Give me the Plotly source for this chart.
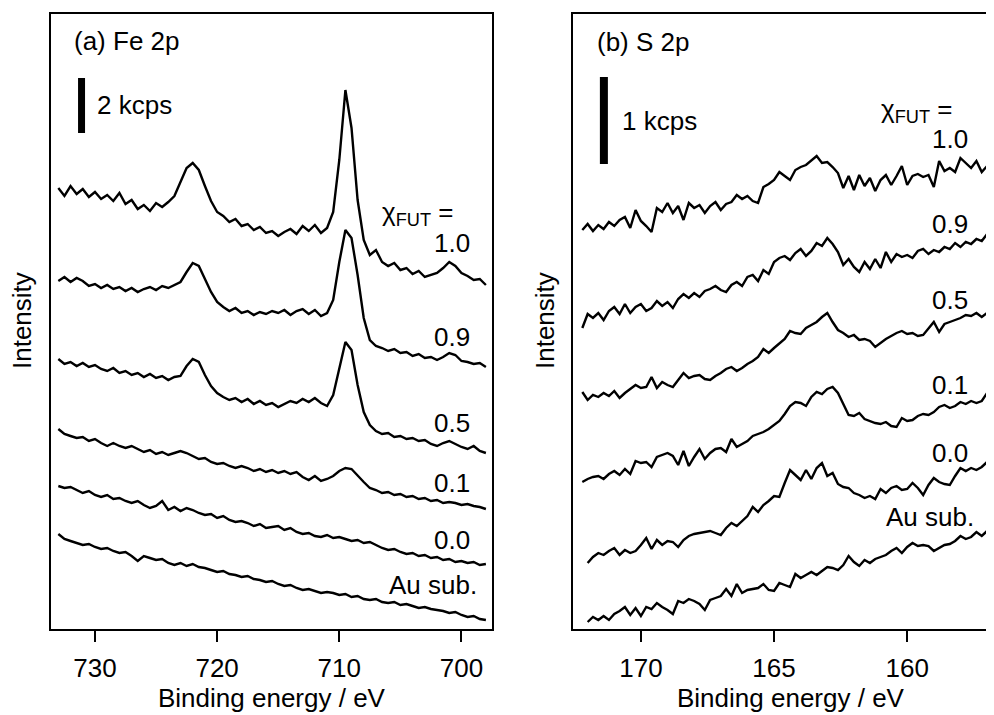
import numpy as np
import plotly.graph_objects as go

# ---------------- data (intensity in arbitrary units, curves already offset) -------------
FE_ENERGY = np.linspace(733.0, 698.0, 71)   # eV, 0.5 eV sampling
S_ENERGY = np.linspace(172.2, 156.8, 78)    # eV, 0.2 eV sampling

FE_10 = [512, 504, 514, 506, 511, 503, 508, 501, 505, 499,
         507, 496, 500, 491, 495, 489, 497, 493, 498, 504,
         518, 532, 537, 530, 514, 499, 488, 484, 478, 481,
         474, 476, 470, 473, 467, 469, 464, 468, 471, 466,
         474, 469, 475, 467, 472, 488, 540, 610, 572, 500,
         460, 445, 450, 438, 434, 437, 430, 432, 426, 429,
         423, 425, 427, 432, 438, 434, 427, 424, 420, 421,
         415]
FE_09 = [419, 423, 418, 422, 419, 414, 416, 412, 415, 411,
         413, 409, 412, 408, 411, 413, 410, 414, 412, 415,
         418, 428, 437, 434, 421, 408, 398, 393, 389, 392,
         387, 389, 385, 388, 386, 389, 387, 390, 385, 389,
         391, 386, 390, 384, 387, 400, 438, 470, 462, 425,
         382, 360, 354, 352, 349, 351, 347, 348, 344, 346,
         342, 343, 340, 343, 347, 345, 339, 338, 336, 337,
         333]
FE_05 = [341, 336, 338, 334, 337, 333, 335, 331, 329, 332,
         327, 329, 325, 327, 323, 326, 322, 324, 320, 323,
         324, 334, 341, 338, 325, 314, 307, 303, 300, 302,
         298, 301, 296, 299, 295, 297, 293, 296, 299, 297,
         301, 298, 302, 297, 294, 305, 332, 358, 350, 315,
         288, 275, 269, 266, 267, 263, 264, 261, 262, 259,
         260, 256, 254, 257, 259, 256, 253, 251, 254, 249,
         247]
FE_01 = [271, 266, 264, 262, 263, 259, 261, 257, 254, 257,
         254, 252, 254, 251, 248, 250, 246, 248, 245, 247,
         249, 247, 244, 241, 242, 238, 236, 237, 234, 232,
         234, 232, 229, 231, 228, 230, 227, 229, 226, 228,
         223, 220, 224, 219, 221, 224, 229, 232, 231, 224,
         218, 212, 210, 207, 208, 205, 206, 203, 204, 201,
         202, 199, 200, 197, 198, 197, 195, 196, 194, 193,
         191]
FE_00 = [214, 212, 213, 210, 207, 209, 205, 203, 205, 201,
         202, 199, 197, 199, 195, 192, 194, 199, 190, 193,
         189, 192, 190, 187, 185, 186, 182, 184, 180, 178,
         179, 177, 174, 176, 172, 173, 174, 170, 172, 168,
         166, 167, 164, 163, 165, 162, 163, 161, 159, 160,
         157, 158, 155, 152, 150, 151, 148, 146, 147, 144,
         145, 142, 143, 140, 141, 138, 139, 137, 138, 135,
         136]
FE_AU = [166, 161, 159, 157, 155, 156, 153, 151, 152, 149,
         147, 148, 144, 139, 144, 142, 140, 141, 137, 135,
         137, 134, 136, 133, 132, 130, 128, 129, 126, 125,
         123, 124, 121, 120, 118, 119, 116, 114, 115, 112,
         110, 111, 109, 107, 108, 107, 105, 106, 103, 104,
         101, 100, 101, 98, 97, 98, 95, 96, 94, 92,
         93, 91, 90, 89, 87, 88, 85, 83, 84, 81,
         80]

S_10 = [470, 476, 469, 475, 471, 478, 474, 480, 483, 472,
        490, 479, 474, 468, 492, 488, 497, 487, 494, 480,
        497, 492, 495, 487, 494, 498, 490, 496, 498, 505,
        501, 504, 499, 497, 513, 516, 520, 528, 524, 520,
        530, 533, 535, 540, 544, 537, 538, 533, 527, 512,
        524, 510, 525, 514, 522, 509, 520, 525, 515, 524,
        534, 515, 524, 526, 523, 525, 513, 539, 529, 532,
        528, 542, 537, 532, 539, 528, 534, 540]
S_09 = [372, 386, 382, 387, 380, 389, 393, 386, 396, 387,
        393, 396, 389, 392, 399, 394, 398, 392, 401, 406,
        402, 407, 403, 409, 411, 414, 410, 408, 415, 418,
        414, 423, 425, 419, 430, 426, 438, 442, 444, 440,
        447, 451, 444, 449, 457, 454, 462, 456, 448, 435,
        441, 433, 428, 438, 431, 441, 432, 448, 438, 446,
        443, 445, 442, 449, 451, 446, 450, 448, 453, 451,
        457, 453, 458, 456, 461, 459, 466, 472]
S_05 = [308, 300, 305, 303, 307, 304, 309, 302, 307, 311,
        315, 312, 313, 323, 312, 318, 315, 313, 320, 327,
        322, 324, 325, 321, 320, 324, 327, 331, 333, 329,
        332, 336, 339, 343, 351, 347, 352, 357, 361, 369,
        367, 366, 372, 375, 378, 383, 387, 378, 370, 367,
        363, 365, 360, 361, 359, 353, 357, 361, 364, 367,
        369, 366, 367, 364, 365, 372, 378, 368, 376, 378,
        380, 382, 385, 384, 387, 383, 387, 389]
S_01 = [218, 221, 223, 224, 221, 226, 229, 225, 231, 226,
        239, 237, 238, 233, 243, 245, 247, 244, 235, 249,
        234, 243, 251, 241, 247, 251, 252, 248, 261, 253,
        256, 259, 264, 266, 268, 271, 275, 279, 286, 294,
        298, 297, 294, 303, 308, 306, 311, 313, 307, 296,
        285, 284, 287, 281, 279, 277, 276, 278, 274, 273,
        282, 279, 280, 284, 286, 285, 288, 293, 295, 292,
        294, 298, 296, 299, 297, 299, 307, 305]
S_00 = [None, 137, 143, 147, 145, 149, 152, 145, 150, 147,
        149, 155, 162, 151, 160, 155, 159, 158, 153, 160,
        164, 166, 167, 168, 169, 167, 165, 172, 177, 174,
        179, 184, 193, 188, 195, 199, 204, 203, 217, 230,
        225, 220, 230, 221, 232, 237, 224, 227, 216, 213,
        212, 207, 205, 202, 204, 201, 211, 207, 212, 214,
        210, 211, 217, 212, 205, 215, 222, 218, 216, 215,
        224, 232, 229, 232, 230, 233, 238, 242]
S_AU = [None, 78, 83, 80, 84, 80, 86, 89, 93, 85,
        92, 84, 93, 91, 97, 93, 90, 86, 99, 97,
        101, 99, 96, 90, 100, 102, 104, 111, 104, 116,
        107, 110, 111, 112, 116, 110, 109, 117, 115, 113,
        126, 122, 125, 128, 125, 129, 133, 132, 130, 135,
        144, 138, 134, 140, 137, 141, 143, 145, 149, 152,
        147, 153, 157, 154, 155, 154, 149, 152, 155, 156,
        159, 164, 161, 163, 168, 164, 169, 170]

SERIES_LABELS = ["1.0", "0.9", "0.5", "0.1", "0.0", "Au sub."]
FE_SERIES = [FE_10, FE_09, FE_05, FE_01, FE_00, FE_AU]
S_SERIES = [S_10, S_09, S_05, S_01, S_00, S_AU]

FE_SCALE_UNITS = 55   # a.u. corresponding to 2 kcps
S_SCALE_UNITS = 87    # a.u. corresponding to 1 kcps
FE_TICKS = [730, 720, 710, 700]
S_TICKS = [170, 165, 160]

# ---------------- figure ----------------
FONT = "Liberation Sans, Arial, Helvetica, sans-serif"
FS = 26
OFF = 8                      # page body margin of the browser
W, H = 994 - OFF, 715 - OFF
PLOT_TOP, PLOT_BOT = 14 - OFF, 629 - OFF
T, B = PLOT_TOP, H - PLOT_BOT
PH = PLOT_BOT - PLOT_TOP


def px_x(px):
    return (px - OFF) / W


def px_y(py):
    return (PLOT_BOT - (py - OFF)) / PH


fig = go.Figure()
for lab, ys in zip(SERIES_LABELS, FE_SERIES):
    fig.add_trace(go.Scatter(x=FE_ENERGY, y=ys, mode="lines", name=lab,
                             line=dict(color="black", width=2.4),
                             xaxis="x", yaxis="y", hoverinfo="skip"))
for lab, ys in zip(SERIES_LABELS, S_SERIES):
    fig.add_trace(go.Scatter(x=S_ENERGY, y=ys, mode="lines", name=lab,
                             line=dict(color="black", width=2.4),
                             xaxis="x2", yaxis="y2", hoverinfo="skip"))

axis_common = dict(showgrid=False, zeroline=False, showline=True, linecolor="black",
                   linewidth=2)
xa_common = dict(axis_common, ticks="outside", ticklen=11, tickwidth=2, tickcolor="black",
                 ticklabelstandoff=4,
                 tickfont=dict(family=FONT, size=FS, color="black"), mirror=True)
ya_common = dict(axis_common, showticklabels=False, ticks="", range=[71, 686])

fig.update_layout(
    width=W, height=H,
    margin=dict(l=0, r=0, t=T, b=B),
    paper_bgcolor="white", plot_bgcolor="white",
    showlegend=False,
    xaxis=dict(xa_common, domain=[px_x(51), px_x(492)], range=[733.6, 697.5],
               tickvals=FE_TICKS, anchor="y"),
    yaxis=dict(ya_common, domain=[0, 1], anchor="x", mirror=True),
    xaxis2=dict(xa_common, domain=[px_x(573), 1.0], range=[172.55, 156.74],
                tickvals=S_TICKS, anchor="y2"),
    yaxis2=dict(ya_common, domain=[0, 1], anchor="x2", mirror=False),
)

# scale bars
fig.add_shape(type="line", xref="x", yref="y", x0=731.1, x1=731.1,
              y0=622 - FE_SCALE_UNITS, y1=622, line=dict(color="black", width=7))
fig.add_shape(type="line", xref="x2", yref="y2", x0=171.39, x1=171.39,
              y0=623 - S_SCALE_UNITS, y1=623, line=dict(color="black", width=8))


def ann(text, x, y, xref, yref, xanchor="left", size=FS, angle=0):
    fig.add_annotation(text=text, x=x, y=y, xref=xref, yref=yref, showarrow=False,
                       xanchor=xanchor, yanchor="middle", textangle=angle,
                       font=dict(family=FONT, size=size, color="black"))


# panel (a) texts
ann("(a) Fe 2p", 731.9, 659, "x", "y")
ann("2 kcps", 730.0, 595, "x", "y")
ann("χ<sub>FUT</sub> =", 700.5, 487, "x", "y", xanchor="right")
fe_label_y = [457, 363, 277, 217, 160, 115]
for lab, yy in zip(SERIES_LABELS, fe_label_y):
    ann(lab, 698.6 if lab.startswith("Au") else 699.1, yy, "x", "y", xanchor="right")

# panel (b) texts
ann("(b) S 2p", 171.73, 658, "x2", "y2")
ann("1 kcps", 170.79, 579, "x2", "y2")
ann("χ<sub>FUT</sub> =", 158.23, 590, "x2", "y2", xanchor="right")
s_label_y = [561, 476, 400, 315, 247, 183]
for lab, yy in zip(SERIES_LABELS, s_label_y):
    ann(lab, 157.40 if lab.startswith("Au") else 157.66, yy, "x2", "y2", xanchor="right")

# axis titles
ann("Binding energy / eV", px_x(272), px_y(698), "paper", "paper", xanchor="center")
ann("Binding energy / eV", px_x(791), px_y(698), "paper", "paper", xanchor="center")
ann("Intensity", px_x(22), px_y(321), "paper", "paper", xanchor="center", angle=-90)
ann("Intensity", px_x(545), px_y(321), "paper", "paper", xanchor="center", angle=-90)

fig.write_html("out.html")
